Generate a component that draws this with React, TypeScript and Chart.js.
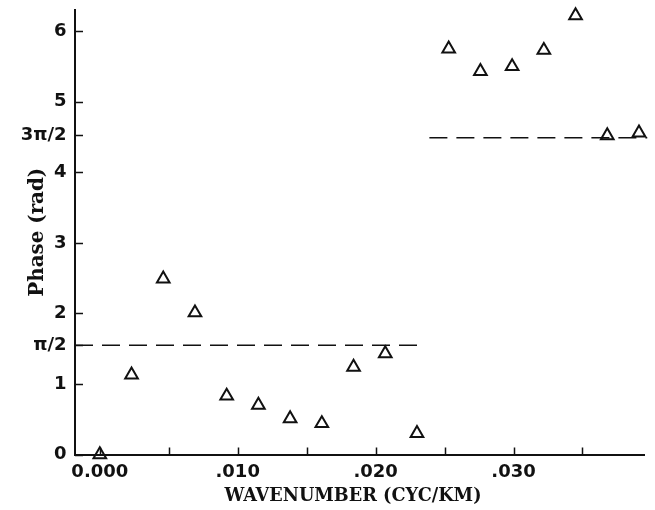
import React, { useEffect, useRef } from "react";
import { Chart, registerables } from "chart.js";

Chart.register(...registerables);

// ---- data ----
const wavenumbers = [
  0.0, 0.0023, 0.0046, 0.0069, 0.0092, 0.0115, 0.0138, 0.0161, 0.0184,
  0.0207, 0.023, 0.0253, 0.0276, 0.0299, 0.0322, 0.0345, 0.0368, 0.0391,
];
const phases = [
  0.0, 1.13, 2.49, 2.01, 0.83, 0.7, 0.51, 0.44, 1.24, 1.43, 0.3, 5.75, 5.43,
  5.5, 5.73, 6.22, 4.52, 4.56,
];

const lowerDashX = [-0.0018, 0.0233];
const lowerDashY = [1.55, 1.55];
const upperDashX = [0.0239, 0.0397];
const upperDashY = [4.49, 4.49];

const xTickValues = [0, 0.005, 0.01, 0.015, 0.02, 0.025, 0.03, 0.035];
const xTickLabels = ["0.000", "", ".010", "", ".020", "", ".030", ""];
const yTickValues = [0, 1, 1.55, 2, 3, 4, 4.53, 5, 6];
const yTickLabels = ["0", "1", "π/2", "2", "3", "4", "3π/2", "5", "6"];

const xMin = -0.0018;
const xMax = 0.0395;
const yMin = 0;
const yMax = 6.3;

const xTitle = "WAVENUMBER (CYC/KM)";
const yTitle = "Phase (rad)";

const INK = "#111";

const inwardTicksAndTitles = {
  id: "inwardTicksAndTitles",
  afterDraw(chart: any) {
    const { ctx, chartArea, scales } = chart;
    const xs = scales.x;
    const ys = scales.y;
    ctx.save();
    ctx.strokeStyle = INK;
    ctx.lineWidth = 1.5;
    ctx.beginPath();
    for (const v of yTickValues) {
      const py = Math.round(ys.getPixelForValue(v)) + 0.5;
      ctx.moveTo(chartArea.left, py);
      ctx.lineTo(chartArea.left + 8, py);
    }
    for (const v of xTickValues) {
      const px = Math.round(xs.getPixelForValue(v)) + 0.5;
      ctx.moveTo(px, chartArea.bottom);
      ctx.lineTo(px, chartArea.bottom - 7);
    }
    ctx.stroke();

    ctx.fillStyle = INK;
    ctx.textAlign = "center";
    ctx.textBaseline = "middle";
    const fit = (text: string, target: number) => {
      ctx.font = 'bold 20px "DejaVu Serif"';
      const w = ctx.measureText(text).width;
      const size = (20 * target) / w;
      ctx.font = `bold ${size.toFixed(2)}px "DejaVu Serif"`;
    };
    fit(xTitle, 257);
    ctx.fillText(xTitle, chartArea.left + 278, chartArea.bottom + 41.5);
    ctx.translate(chartArea.left - 37, (chartArea.top + chartArea.bottom) / 2);
    ctx.rotate(-Math.PI / 2);
    fit(yTitle, 129);
    ctx.fillText(yTitle, 0, 0);
    ctx.restore();
  },
};

export default function App() {
  const canvasRef = useRef<HTMLCanvasElement | null>(null);

  useEffect(() => {
    if (!canvasRef.current) return;
    const chart = new Chart(canvasRef.current, {
      type: "scatter",
      data: {
        datasets: [
          {
            data: wavenumbers.map((x, i) => ({ x, y: phases[i] })),
            pointStyle: "triangle",
            pointRadius: 7.3,
            pointBorderWidth: 2,
            borderColor: INK,
            backgroundColor: "rgba(0,0,0,0)",
            showLine: false,
            clip: false,
          } as any,
          {
            type: "line",
            data: lowerDashX.map((x, i) => ({ x, y: lowerDashY[i] })),
            borderColor: INK,
            borderWidth: 1.5,
            borderDash: [18, 9],
            pointRadius: 0,
            fill: false,
            clip: false,
          } as any,
          {
            type: "line",
            data: upperDashX.map((x, i) => ({ x, y: upperDashY[i] })),
            borderColor: INK,
            borderWidth: 1.5,
            borderDash: [18, 9],
            pointRadius: 0,
            fill: false,
            clip: false,
          } as any,
        ],
      },
      options: {
        animation: false,
        responsive: false,
        events: [],
        plugins: { legend: { display: false }, tooltip: { enabled: false } },
        layout: { padding: { left: 0, top: 10, right: 10.5, bottom: 0 } },
        scales: {
          x: {
            type: "linear",
            min: xMin,
            max: xMax,
            grid: { display: false, drawTicks: false },
            border: { display: true, color: INK, width: 2 },
            ticks: {
              autoSkip: false,
              maxRotation: 0,
              padding: 7,
              color: INK,
              font: { family: "DejaVu Sans", size: 18, weight: "bold" },
              callback: (_v: any, i: number) => xTickLabels[i],
            },
            afterBuildTicks: (s: any) => {
              s.ticks = xTickValues.map((v) => ({ value: v }));
            },
            afterFit: (s: any) => {
              s.height = 55.5;
              s.paddingLeft = 0;
              s.paddingRight = 0;
            },
          },
          y: {
            type: "linear",
            min: yMin,
            max: yMax,
            grid: { display: false, drawTicks: false },
            border: { display: true, color: INK, width: 2 },
            ticks: {
              autoSkip: false,
              padding: 8.5,
              color: INK,
              font: { family: "DejaVu Sans", size: 18, weight: "bold" },
              callback: (_v: any, i: number) => yTickLabels[i],
            },
            afterBuildTicks: (s: any) => {
              s.ticks = yTickValues.map((v) => ({ value: v }));
            },
            afterFit: (s: any) => {
              s.width = 75;
              s.paddingTop = 0;
              s.paddingBottom = 0;
            },
          },
        },
      } as any,
      plugins: [inwardTicksAndTitles],
    });
    return () => chart.destroy();
  }, []);

  return (
    <div
      style={{
        position: "absolute",
        left: 0,
        top: 0,
        width: 655,
        height: 510,
        background: "#fff",
      }}
    >
      <canvas ref={canvasRef} width={655} height={510} />
    </div>
  );
}
